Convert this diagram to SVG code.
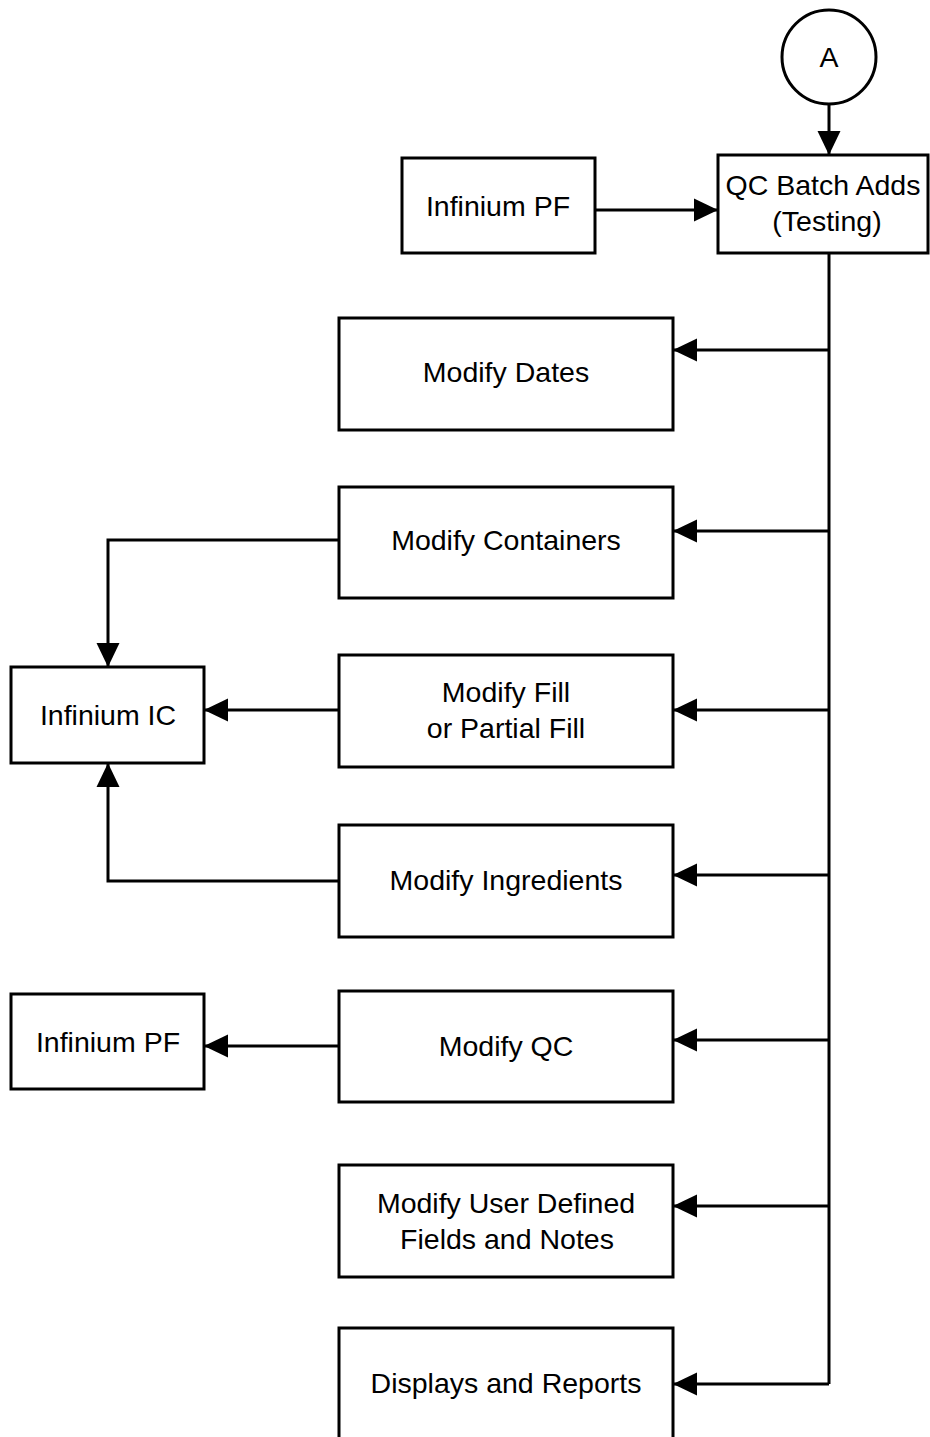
<svg xmlns="http://www.w3.org/2000/svg" width="930" height="1437" viewBox="0 0 930 1437">
<style>
.box{fill:#fff;stroke:#000;stroke-width:3}
.t{font-family:"Liberation Sans",Arial,sans-serif;font-size:28.5px;fill:#000;text-anchor:middle}
.c{fill:none;stroke:#000;stroke-width:3;marker-end:url(#ah)}
.p{fill:none;stroke:#000;stroke-width:3}
</style>
<defs>
<marker id="ah" markerUnits="userSpaceOnUse" markerWidth="24" markerHeight="23" refX="24" refY="11.5" orient="auto" overflow="visible">
<path d="M0,0 L24,11.5 L0,23 Z" fill="#000"/>
</marker>
</defs>
<rect width="930" height="1437" fill="#fff"/>
<g id="connectors">
<path class="c" d="M829,104 V155"/>
<path class="c" d="M595,210 H718"/>
<path class="p" d="M829,253 V1384"/>
<path class="c" d="M829,350 H673"/>
<path class="c" d="M829,531 H673"/>
<path class="c" d="M829,710 H673"/>
<path class="c" d="M829,875 H673"/>
<path class="c" d="M829,1040 H673"/>
<path class="c" d="M829,1206 H673"/>
<path class="c" d="M829,1384 H673"/>
<path class="c" d="M339,540 H108 V667"/>
<path class="c" d="M339,710 H204"/>
<path class="c" d="M339,881 H108 V763"/>
<path class="c" d="M339,1046 H204"/>
</g>
<g id="nodeA"><circle cx="829" cy="57" r="47" class="box"/><text class="t" x="829" y="67">A</text></g>
<g id="qcBatch"><rect class="box" x="718" y="155" width="210" height="98"/><text class="t" x="823" y="195">QC Batch Adds</text><text class="t" x="827" y="231">(Testing)</text></g>
<g id="infPF1"><rect class="box" x="402" y="158" width="193" height="95"/><text class="t" x="498" y="216">Infinium PF</text></g>
<g id="modDates"><rect class="box" x="339" y="318" width="334" height="112"/><text class="t" x="506" y="382">Modify Dates</text></g>
<g id="modContainers"><rect class="box" x="339" y="487" width="334" height="111"/><text class="t" x="506" y="550">Modify Containers</text></g>
<g id="modFill"><rect class="box" x="339" y="655" width="334" height="112"/><text class="t" x="506" y="702">Modify Fill</text><text class="t" x="506" y="738">or Partial Fill</text></g>
<g id="infIC"><rect class="box" x="11" y="667" width="193" height="96"/><text class="t" x="108" y="725">Infinium IC</text></g>
<g id="modIngredients"><rect class="box" x="339" y="825" width="334" height="112"/><text class="t" x="506" y="890">Modify Ingredients</text></g>
<g id="modQC"><rect class="box" x="339" y="991" width="334" height="111"/><text class="t" x="506" y="1056">Modify QC</text></g>
<g id="infPF2"><rect class="box" x="11" y="994" width="193" height="95"/><text class="t" x="108" y="1052">Infinium PF</text></g>
<g id="modUDF"><rect class="box" x="339" y="1165" width="334" height="112"/><text class="t" x="506" y="1213">Modify User Defined</text><text class="t" x="507" y="1249">Fields and Notes</text></g>
<g id="displays"><rect class="box" x="339" y="1328" width="334" height="130"/><text class="t" x="506" y="1393">Displays and Reports</text></g>
</svg>
